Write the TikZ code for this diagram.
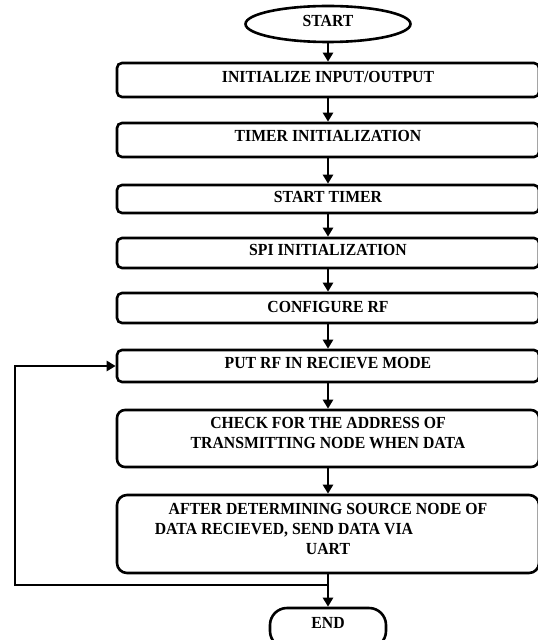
\documentclass[tikz,border=0pt]{standalone}
\usepackage{fontspec}
\setmainfont[FakeStretch=0.93]{Liberation Serif}
\usetikzlibrary{shapes.geometric,arrows.meta}
\begin{document}
\begin{tikzpicture}[x=1bp,y=-1bp,
  every node/.style={inner sep=0pt},
  stepbox/.style={draw, line width=2.6bp, rounded corners=5bp, minimum width=422bp},
  lbl/.style={font=\fontsize{17}{21}\selectfont\bfseries, text=black, anchor=base},
  mlbl/.style={font=\fontsize{17}{20.5}\selectfont\bfseries, text=black, align=center},
  flow/.style={line width=2.6bp, -{Triangle[length=9bp,width=10bp]}}]
\useasboundingbox (0,0) rectangle (538,640);

% terminals
\node[draw, ellipse, line width=2.6bp, minimum width=165bp, minimum height=36bp] (start) at (328,24) {};
\node[lbl] (tstart) at (328,27) {START};

% process steps
\node[stepbox, minimum height=34bp] (b1) at (328,80) {};
\node[lbl] (t1) at (328,83) {INITIALIZE INPUT/OUTPUT};
\node[stepbox, minimum height=34bp] (b2) at (328,140) {};
\node[lbl] (t2) at (328,142) {TIMER INITIALIZATION};
\node[stepbox, minimum height=28bp] (b3) at (328,199) {};
\node[lbl] (t3) at (328,202) {START TIMER};
\node[stepbox, minimum height=30bp] (b4) at (328,253) {};
\node[lbl] (t4) at (328,255) {SPI INITIALIZATION};
\node[stepbox, minimum height=30bp] (b5) at (328,308) {};
\node[lbl] (t5) at (328,312) {CONFIGURE RF};
\node[stepbox, minimum height=32bp] (b6) at (328,366) {};
\node[lbl] (t6) at (328,368) {PUT RF IN RECIEVE MODE};
\node[stepbox, rounded corners=8bp, minimum height=57bp] (b7) at (328,438.5) {};
\node[mlbl] (t7) at (328,433) {CHECK FOR THE ADDRESS OF\\TRANSMITTING NODE WHEN DATA};
\node[stepbox, rounded corners=10bp, minimum height=78bp] (b8) at (328,534) {};
\node[mlbl] (t8) at (328,529) {AFTER DETERMINING SOURCE NODE OF\\DATA RECIEVED, SEND DATA VIA\rule{88bp}{0pt}\\UART};

\node[draw, line width=2.6bp, rounded corners=17bp, minimum width=116bp, minimum height=40bp] (end) at (328,628) {};
\node[lbl] (tend) at (328,628) {END};

% connectors
\draw[flow] (start) -- (b1);
\draw[flow] (b1) -- (b2);
\draw[flow] (b2) -- (b3);
\draw[flow] (b3) -- (b4);
\draw[flow] (b4) -- (b5);
\draw[flow] (b5) -- (b6);
\draw[flow] (b6) -- (b7);
\draw[flow] (b7) -- (b8);
\draw[flow] (b8) -- (end);

% loop back to receive mode
\coordinate (j) at (328,585);
\coordinate (lc) at (15,585);
\draw[flow] (j) -- (lc) |- (b6.west);
\end{tikzpicture}
\end{document}
